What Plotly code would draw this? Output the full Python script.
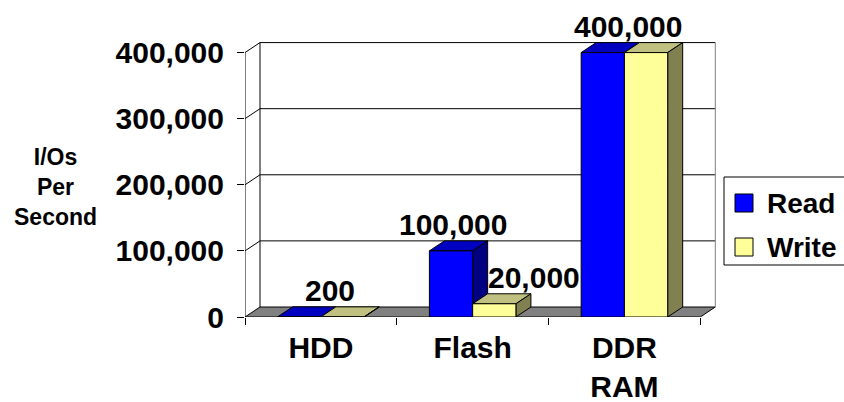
import plotly.graph_objects as go

# ---- data ----
categories = ["HDD", "Flash", "DDR RAM"]
category_ticktext = ["HDD", "Flash", "DDR<br>RAM"]
series_names = ["Read", "Write"]
read_iops = [200, 100000, 400000]
write_iops = [200, 20000, 400000]
y_tickvals = [0, 100000, 200000, 300000, 400000]
y_ticktext = ["0", "100,000", "200,000", "300,000", "400,000"]
axis_title = "I/Os<br>Per<br>Second"

# ---- layout geometry (pixels) ----
W, H = 844, 402
ML, MR, MT, MB = 245, 127, 42, 85
PLOT_W = W - ML - MR
PLOT_H = H - MT - MB
X_RANGE = [-0.5, 2.61]
Y_RANGE = [0, 416000]
UX = (X_RANGE[1] - X_RANGE[0]) / PLOT_W   # data units per pixel (x)
UY = (Y_RANGE[1] - Y_RANGE[0]) / PLOT_H   # data units per pixel (y)
DX, DY = 15 * UX, 10 * UY                  # depth of the 3-D box
BAR_W = 0.285
FONT = "Liberation Sans, Arial, sans-serif"

faces = {
    "Read": dict(front="#0000FF", top="#0000C0", side="#000080"),
    "Write": dict(front="#FFFF99", top="#C0C080", side="#808050"),
}
# value labels: (series, category index, horizontal nudge in px)
value_labels = [("Write", 0, -20), ("Read", 1, -6), ("Write", 1, 32), ("Read", 2, 18)]

series_values = {"Read": read_iops, "Write": write_iops}
series_offset = {"Read": -BAR_W, "Write": 0.0}


def px_x(p):
    return (p - ML) / PLOT_W


def px_y(p):
    return (H - MB - p) / PLOT_H


def poly(pts):
    return "M " + " L ".join(f"{x},{y}" for x, y in pts) + " Z"


fig = go.Figure()
shapes = []
x_left, x_right = -0.5, 2.5
top_val = max(y_tickvals)

# floor
shapes.append(dict(type="path", xref="x", yref="y", layer="below",
                   path=poly([(x_left, 0), (x_right, 0), (x_right + DX, DY), (x_left + DX, DY)]),
                   fillcolor="#808080", line=dict(color="black", width=1)))
# back wall gridlines
for v in y_tickvals[1:]:
    shapes.append(dict(type="line", xref="x", yref="y", layer="below",
                       x0=x_left + DX, x1=x_right + DX, y0=v + DY, y1=v + DY,
                       line=dict(color="black", width=1)))
# back wall edges
shapes.append(dict(type="line", xref="x", yref="y", layer="below",
                   x0=x_left + DX, x1=x_left + DX, y0=DY, y1=top_val + DY,
                   line=dict(color="black", width=1)))
shapes.append(dict(type="line", xref="x", yref="y", layer="below",
                   x0=x_right + DX, x1=x_right + DX, y0=DY, y1=top_val + DY,
                   line=dict(color="#808080", width=1)))
# side wall
shapes.append(dict(type="line", xref="x", yref="y", layer="below",
                   x0=x_left, x1=x_left, y0=0, y1=top_val,
                   line=dict(color="black", width=1)))
for v in y_tickvals[1:]:
    shapes.append(dict(type="line", xref="x", yref="y", layer="below",
                       x0=x_left, x1=x_left + DX, y0=v, y1=v + DY,
                       line=dict(color="black", width=1)))

# top and side faces of each bar, painted left to right
for ci in range(len(categories)):
    for name in series_names:
        v = series_values[name][ci]
        x0 = ci + series_offset[name]
        x1 = x0 + BAR_W
        c = faces[name]
        shapes.append(dict(type="path", xref="x", yref="y", layer="below",
                           path=poly([(x0, v), (x1, v), (x1 + DX, v + DY), (x0 + DX, v + DY)]),
                           fillcolor=c["top"], line=dict(color="black", width=1)))
        shapes.append(dict(type="path", xref="x", yref="y", layer="below",
                           path=poly([(x1, 0), (x1, v), (x1 + DX, v + DY), (x1 + DX, DY)]),
                           fillcolor=c["side"], line=dict(color="black", width=1)))

# front faces
for name in series_names:
    fig.add_trace(go.Bar(
        x=list(range(len(categories))), y=series_values[name], name=name,
        width=BAR_W, offset=series_offset[name],
        marker=dict(color=faces[name]["front"], line=dict(color="black", width=1)),
        showlegend=False, hoverinfo="skip",
    ))

annotations = []
for name, ci, nudge in value_labels:
    v = series_values[name][ci]
    xc = ci + series_offset[name] + BAR_W / 2 + DX / 2
    annotations.append(dict(x=xc, y=v + DY, xref="x", yref="y", text=f"{v:,}",
                            showarrow=False, xanchor="center", yanchor="bottom",
                            xshift=nudge, yshift=-2,
                            font=dict(family=FONT, size=30, color="black", weight="bold")))

# axis title
annotations.append(dict(x=px_x(55), y=px_y(187), xref="paper", yref="paper",
                        text=axis_title, showarrow=False, align="center",
                        xanchor="center", yanchor="middle",
                        font=dict(family=FONT, size=23, color="black", weight="bold")))

# legend box
shapes.append(dict(type="rect", xref="paper", yref="paper",
                   x0=px_x(724), x1=px_x(852), y0=px_y(265), y1=px_y(177),
                   line=dict(color="black", width=1), fillcolor="white"))
for i, name in enumerate(series_names):
    cy = 203 + 44 * i
    shapes.append(dict(type="rect", xref="paper", yref="paper",
                       x0=px_x(735), x1=px_x(753), y0=px_y(cy + 9), y1=px_y(cy - 9),
                       line=dict(color="black", width=1), fillcolor=faces[name]["front"]))
    annotations.append(dict(x=px_x(765), y=px_y(cy), xref="paper", yref="paper",
                            text=name, showarrow=False, xanchor="left", yanchor="middle",
                            font=dict(family=FONT, size=28, color="black", weight="bold")))

fig.update_layout(
    width=W, height=H, margin=dict(l=ML, r=MR, t=MT, b=MB),
    paper_bgcolor="white", plot_bgcolor="white",
    barmode="overlay", shapes=shapes, annotations=annotations,
    font=dict(family=FONT, color="black"),
    xaxis=dict(range=X_RANGE, tickmode="array", tickvals=list(range(len(categories))),
               ticktext=category_ticktext, ticks="", showgrid=False, zeroline=False,
               showline=False, ticklabelstandoff=10, automargin=False,
               tickfont=dict(family=FONT, size=30, color="black", weight="bold"),
               minor=dict(tickmode="array", tickvals=[-0.5, 0.5, 1.5, 2.5],
                          ticks="outside", ticklen=7, tickcolor="black", showgrid=False)),
    yaxis=dict(range=Y_RANGE, tickmode="array", tickvals=y_tickvals, ticktext=y_ticktext,
               ticks="outside", ticklen=7, tickcolor="black", showgrid=False,
               zeroline=False, showline=False, ticklabelstandoff=7, automargin=False,
               tickfont=dict(family=FONT, size=30, color="black", weight="bold")),
)

fig.write_html("out.html")
